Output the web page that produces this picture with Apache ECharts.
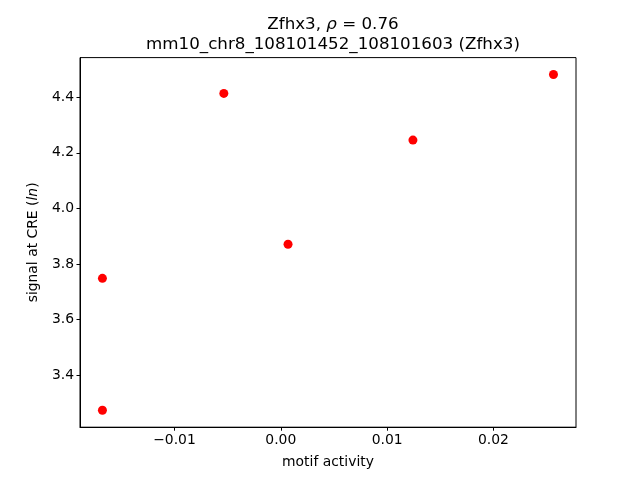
<!DOCTYPE html>
<html>
<head>
<meta charset="utf-8">
<script src="https://cdn.jsdelivr.net/npm/echarts@6/dist/echarts.min.js"></script>
<style>html,body{margin:0;padding:0;background:#fff}#c{width:640px;height:480px}</style>
</head>
<body>
<div id="c"></div>
<script>
const motifActivity = [-0.01678, -0.01678, -0.00536, 0.00068, 0.01243, 0.02565];
const signalAtCRE = [3.748, 3.273, 4.414, 3.871, 4.246, 4.482];
const xTicks = [-0.01, 0.00, 0.01, 0.02];
const yTicks = [3.4, 3.6, 3.8, 4.0, 4.2, 4.4];
const titleLine1 = 'Zfhx3, ';
const rhoValue = '0.76';
const titleLine2 = 'mm10_chr8_108101452_108101603 (Zfhx3)';

const FONT = 'DejaVu Sans';
const points = motifActivity.map((x, i) => [x, signalAtCRE[i]]);
const chart = echarts.init(document.getElementById('c'), null, {renderer: 'canvas'});
chart.setOption({
  animation: false,
  backgroundColor: '#fff',
  title: {
    text: titleLine1 + '{i|ρ} = ' + rhoValue + '\n' + titleLine2,
    left: 328, top: 10, textAlign: 'center',
    textStyle: {
      fontFamily: FONT, fontSize: 16.7, fontWeight: 'normal', color: '#000', lineHeight: 19.5,
      rich: {i: {fontFamily: FONT, fontSize: 16.7, fontStyle: 'italic', color: '#000'}}
    }
  },
  grid: {left: 80, right: 64, top: 57.6, bottom: 52.8, show: true, borderColor: '#000', borderWidth: 1, backgroundColor: 'transparent'},
  xAxis: {
    type: 'value', min: -0.01889, max: 0.02777,
    name: 'motif activity', nameLocation: 'middle', nameGap: 28,
    nameTextStyle: {fontFamily: FONT, fontSize: 13.9, color: '#000'},
    axisLine: {show: true, onZero: false, lineStyle: {color: '#000', width: 1}},
    splitLine: {show: false},
    axisTick: {show: true, inside: false, length: 3.5, lineStyle: {color: '#000'}, customValues: xTicks},
    axisLabel: {fontFamily: FONT, fontSize: 13.9, color: '#000', margin: 6, customValues: xTicks,
      formatter: v => (v < 0 ? '\u2212' : '') + Math.abs(v).toFixed(2)}
  },
  yAxis: {
    type: 'value', min: 3.212, max: 4.543,
    name: 'signal at CRE ({i|ln})', nameLocation: 'middle', nameGap: 40, nameRotate: 90,
    nameTextStyle: {fontFamily: FONT, fontSize: 13.9, color: '#000',
      rich: {i: {fontFamily: FONT, fontSize: 13.9, fontStyle: 'italic', color: '#000'}}},
    axisLine: {show: true, onZero: false, lineStyle: {color: '#000', width: 1}},
    splitLine: {show: false},
    axisTick: {show: true, inside: false, length: 3.5, lineStyle: {color: '#000'}, customValues: yTicks},
    axisLabel: {fontFamily: FONT, fontSize: 13.9, color: '#000', margin: 6, customValues: yTicks,
      formatter: v => v.toFixed(1)}
  },
  series: [{
    type: 'scatter', data: points, symbol: 'circle', symbolSize: 9,
    itemStyle: {color: '#ff0000', opacity: 1}
  }]
});
</script>
</body>
</html>
